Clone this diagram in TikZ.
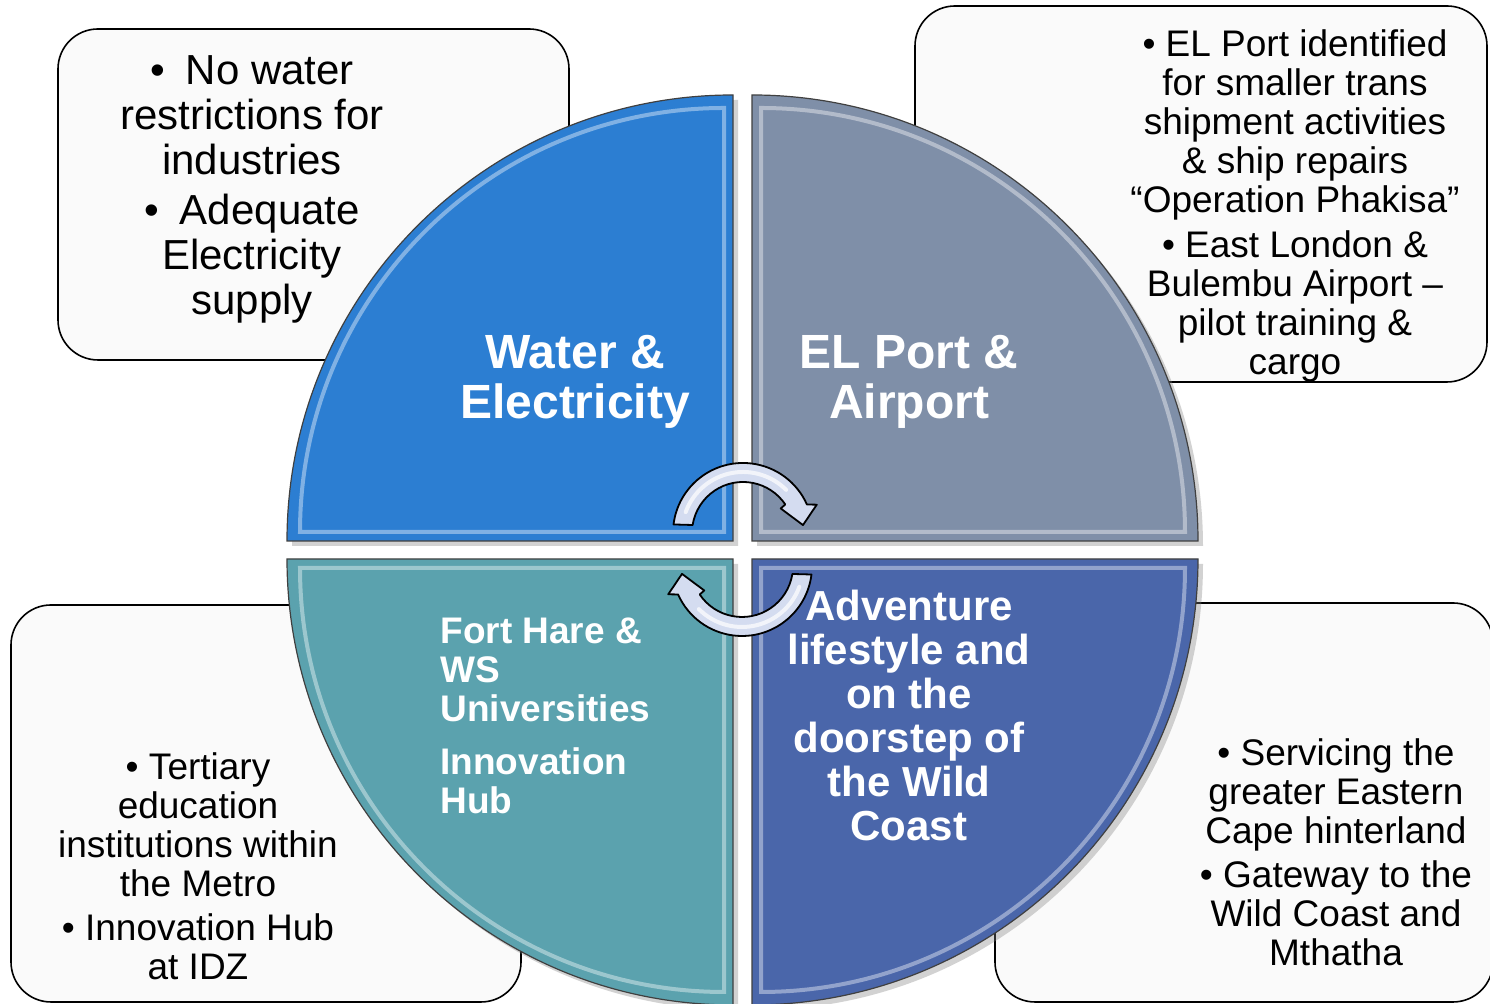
\documentclass[tikz,border=0pt]{standalone}
\usepackage{fontspec}
\setmainfont{Liberation Sans}
\usetikzlibrary{shadows}

\definecolor{waterblue}{RGB}{44,126,210}
\definecolor{portgrey}{RGB}{127,143,168}
\definecolor{uniteal}{RGB}{91,162,174}
\definecolor{coastblue}{RGB}{74,102,170}
\definecolor{cyclefill}{RGB}{212,220,240}
\definecolor{notefill}{RGB}{250,250,250}

\begin{document}
\begin{tikzpicture}[x=0.5pt,y=0.5pt,
  note/.style={draw=black,line width=0.8pt,fill=notefill,rounded corners=20pt},
  note text/.style={align=center,inner sep=0pt,font=\fontsize{18.5pt}{19.5pt}\selectfont},
  quad/.style={draw=black!75,line width=0.6pt,
    drop shadow={opacity=0.35,shadow xshift=2.5pt,shadow yshift=-2.5pt}},
  bevel/.style={draw=white,draw opacity=0.4,line width=2pt},
  quad text/.style={text=white,inner sep=0pt,font=\bfseries\fontsize{24pt}{25pt}\selectfont},
  cycle arrow/.style={draw=black,line width=0.9pt,fill=cyclefill,line join=round}]

  \fill[white] (0,0) rectangle (1490,1004);
  \useasboundingbox (0,0) rectangle (1490,1004);

  % side notes
  \draw[note] (58,644) rectangle (569,975);
  \draw[note] (915,622) rectangle (1487,998);
  \draw[note] (11,2) rectangle (521,399);
  \draw[note] (995,2) rectangle (1493,401);

  \node[note text,font=\fontsize{21pt}{22.5pt}\selectfont] (waterNote) at (252,815)
    {\textbullet\hspace{0.5em}No water\\restrictions for\\industries\\[2.5pt]
     \textbullet\hspace{0.5em}Adequate\\Electricity\\supply};
  \node[note text] (portNote) at (1295,798)
    {\textbullet\ EL Port identified\\for smaller trans\\shipment activities\\
     \& ship repairs\\“Operation Phakisa”\\[3pt]
     \textbullet\ East London \&\\Bulembu Airport –\\pilot training \&\\cargo};
  \node[note text] (uniNote) at (198,138)
    {\textbullet\ Tertiary\\education\\institutions within\\the Metro\\[2.5pt]
     \textbullet\ Innovation Hub\\at IDZ};
  \node[note text] (coastNote) at (1336,152)
    {\textbullet\ Servicing the\\greater Eastern\\Cape hinterland\\[2.5pt]
     \textbullet\ Gateway to the\\Wild Coast and\\Mthatha};

  % the four quarters
  \path[quad,fill=waterblue] (733,463) -- (287,463) arc[start angle=180,end angle=90,radius=446] -- cycle;
  \path[quad,fill=portgrey] (752,463) -- (752,909) arc[start angle=90,end angle=0,radius=446] -- cycle;
  \path[quad,fill=uniteal] (733,445) -- (287,445) arc[start angle=180,end angle=270,radius=446] -- cycle;
  \path[quad,fill=coastblue] (752,445) -- (1198,445) arc[start angle=0,end angle=-90,radius=446] -- cycle;

  \draw[bevel] (724,472) -- (300,472) arc[start angle=180,end angle=90,radius=424] -- cycle;
  \draw[bevel] (761,472) -- (761,896) arc[start angle=90,end angle=0,radius=424] -- cycle;
  \draw[bevel] (724,436) -- (300,436) arc[start angle=180,end angle=270,radius=424] -- cycle;
  \draw[bevel] (761,436) -- (1185,436) arc[start angle=0,end angle=-90,radius=424] -- cycle;

  \node[quad text,align=center] (water) at (575,622) {Water \&\\Electricity};
  \node[quad text,align=center] (port) at (909,622) {EL Port \&\\Airport};
  \node[quad text,align=center,font=\bfseries\fontsize{21pt}{22pt}\selectfont] (coast) at (909,288)
    {Adventure\\lifestyle and\\on the\\doorstep of\\the Wild\\Coast};
  \node[quad text,align=left,anchor=west,font=\bfseries\fontsize{18.5pt}{19.5pt}\selectfont] (uni) at (440,288)
    {Fort Hare \&\\WS\\Universities\\[7pt]Innovation\\Hub};

  % cycle arrows in the middle
  \begin{scope}[shift={(743,471)}]
    \draw[cycle arrow] (173:70) arc[start angle=173,end angle=24,radius=70]
      -- (21:79) -- (7.5:60.5) -- (33:45) -- (34:51)
      arc[start angle=34,end angle=171,radius=51] -- cycle;
    \draw[white,opacity=0.7,line width=2pt,line cap=round] (160:61) arc[start angle=160,end angle=45,radius=61];
  \end{scope}
  \begin{scope}[shift={(742,438)}]
    \draw[cycle arrow] (353:70) arc[start angle=353,end angle=204,radius=70]
      -- (201:79) -- (187.5:60.5) -- (213:45) -- (214:51)
      arc[start angle=214,end angle=351,radius=51] -- cycle;
    \draw[white,opacity=0.7,line width=2pt,line cap=round] (340:61) arc[start angle=340,end angle=225,radius=61];
  \end{scope}
\end{tikzpicture}
\end{document}
